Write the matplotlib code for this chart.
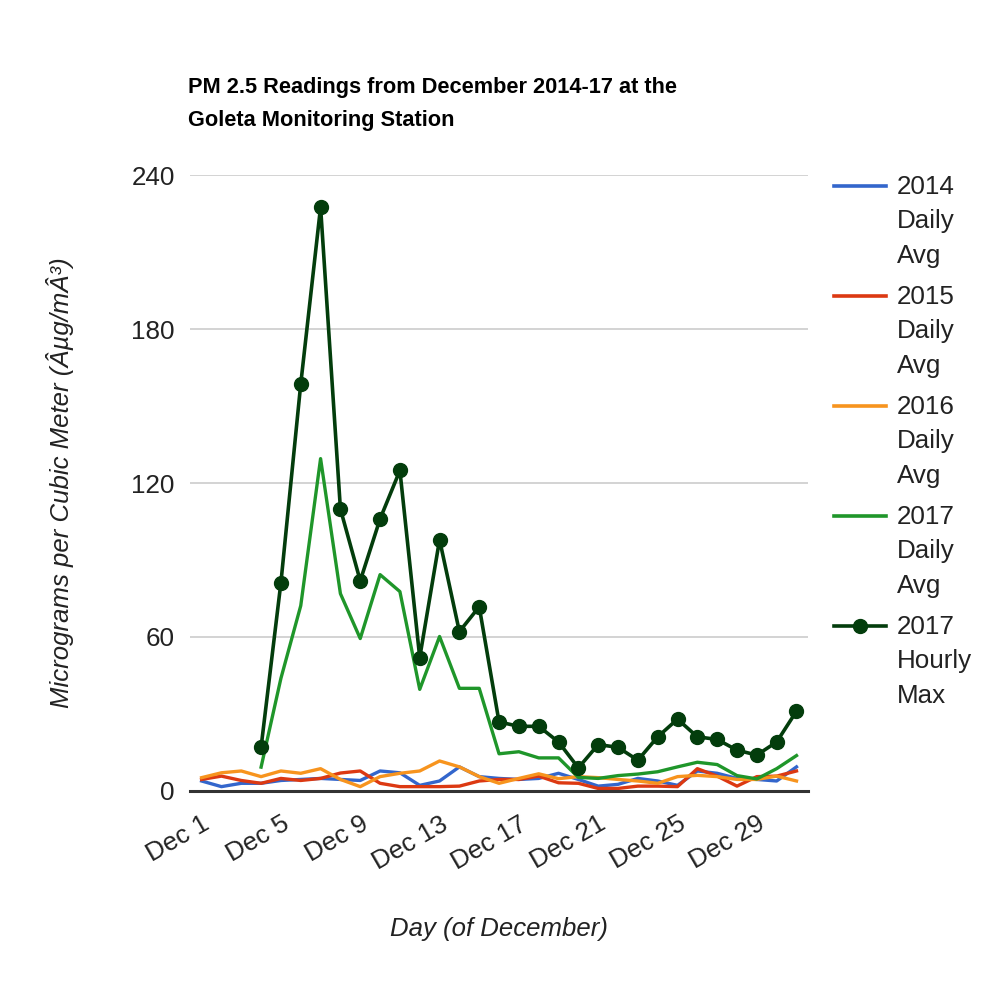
import numpy as np
import matplotlib
matplotlib.use("Agg")
import matplotlib.pyplot as plt
from matplotlib.lines import Line2D

plt.rcParams["font.family"] = ["Liberation Sans", "DejaVu Sans"]

# Days of December
days = np.arange(1, 32)

avg_2014 = [3.9, 1.7, 3.0, 3.0, 4.1, 4.5, 4.9, 4.5, 4.1, 7.8, 7.1, 2.2, 3.9, 9.4, 5.6, 4.9,
            4.5, 4.9, 6.9, 4.5, 1.9, 2.6, 4.9, 3.9, 2.2, 7.8, 6.9, 4.9, 4.5, 3.9, 9.4]
avg_2015 = [4.5, 5.8, 4.1, 3.0, 4.9, 4.1, 4.9, 7.0, 7.8, 3.0, 1.7, 1.7, 1.7, 1.9, 3.9, 4.5,
            4.5, 5.8, 3.2, 3.0, 1.0, 1.0, 1.9, 1.9, 1.7, 8.7, 5.8, 1.9, 5.6, 5.8, 7.8]
avg_2016 = [5.2, 7.1, 7.8, 5.6, 7.8, 6.9, 8.7, 4.5, 1.7, 5.6, 6.9, 7.8, 11.7, 9.4, 5.6, 3.0,
            4.9, 6.7, 4.8, 5.6, 5.2, 4.5, 3.9, 3.0, 5.6, 6.1, 5.6, 4.5, 4.5, 5.8, 3.9]
avg_2017 = [None, None, None, 9.3, 43.9, 72.2, 129.5, 76.9, 59.4, 84.3, 77.7, 39.6, 60.2, 40.0,
            40.0, 14.5, 15.3, 12.9, 12.9, 5.3, 4.9, 6.0, 6.6, 7.5, 9.4, 11.2, 10.3, 6.0, 4.7,
            8.7, 13.8]
max_2017 = [None, None, None, 17.1, 81.2, 158.6, 227.5, 109.9, 81.9, 106.0, 124.9, 52.0, 97.9,
            62.1, 71.8, 26.9, 25.2, 25.2, 19.1, 9.0, 18.1, 17.0, 12.0, 21.1, 28.0, 21.1, 20.1,
            15.9, 14.0, 19.1, 31.1]

labels = ["2014\nDaily\nAvg", "2015\nDaily\nAvg", "2016\nDaily\nAvg",
          "2017\nDaily\nAvg", "2017\nHourly\nMax"]
colors = ["#3366cc", "#dc3912", "#f7941e", "#1f962a", "#033d0c"]
tick_days = [1, 5, 9, 13, 17, 21, 25, 29]


def to_arr(vals):
    return np.array([np.nan if v is None else v for v in vals], dtype=float)


fig = plt.figure(figsize=(9.92, 9.88), dpi=100)
ax = fig.add_axes([190 / 992, 1 - 791 / 988, 618 / 992, 616 / 988])

series = [avg_2014, avg_2015, avg_2016, avg_2017, max_2017]
for i, vals in enumerate(series):
    if i == 4:
        ax.plot(days, to_arr(vals), color=colors[i], lw=2.6, marker="o", markersize=10,
                zorder=5, clip_on=False)
    else:
        ax.plot(days, to_arr(vals), color=colors[i], lw=2.4, zorder=3 + i * 0.1)

ax.set_xlim(0.415, 31.58)
ax.set_ylim(0, 240)
ax.set_yticks([0, 60, 120, 180, 240])
ax.yaxis.grid(True, color="#cccccc", lw=1.2)
ax.set_axisbelow(True)
for s in ["top", "right", "left"]:
    ax.spines[s].set_visible(False)
ax.spines["bottom"].set_color("#333333")
ax.spines["bottom"].set_linewidth(2.2)
ax.spines["bottom"].set_zorder(6)

ax.set_xticks(tick_days)
ax.set_xticklabels(["Dec %d" % d for d in tick_days], rotation=30, ha="right",
                   rotation_mode="anchor")
ax.tick_params(axis="both", length=0, labelsize=18.7, labelcolor="#222222")
ax.tick_params(axis="x", pad=15)
ax.tick_params(axis="y", pad=11)

ax.set_xlabel("Day (of December)", fontsize=18.5, style="italic", color="#222222",
              labelpad=31)
ax.set_ylabel("Micrograms per Cubic Meter (Âµg/mÂ³)", fontsize=18.5, style="italic",
              color="#222222", labelpad=41)

fig.text(188 / 992, 1 - 77 / 988,
         "PM 2.5 Readings from December 2014-17 at the\nGoleta Monitoring Station",
         fontsize=15.7, fontweight="bold", ha="left", va="top", linespacing=1.75,
         color="#000000")

# Legend drawn on the right, one block of three lines per series
for i, lab in enumerate(labels):
    y = 1 - (186 + 110 * i) / 988
    fig.add_artist(Line2D([834 / 992, 886 / 992], [y, y], color=colors[i], lw=2.6,
                          transform=fig.transFigure))
    if i == 4:
        fig.add_artist(Line2D([860 / 992], [y], color=colors[i], marker="o", markersize=10,
                              transform=fig.transFigure))
    fig.text(897 / 992, y + 11 / 988, lab, fontsize=18.7, ha="left", va="top",
             linespacing=1.55, color="#222222")

fig.savefig("out.png", dpi=100)
